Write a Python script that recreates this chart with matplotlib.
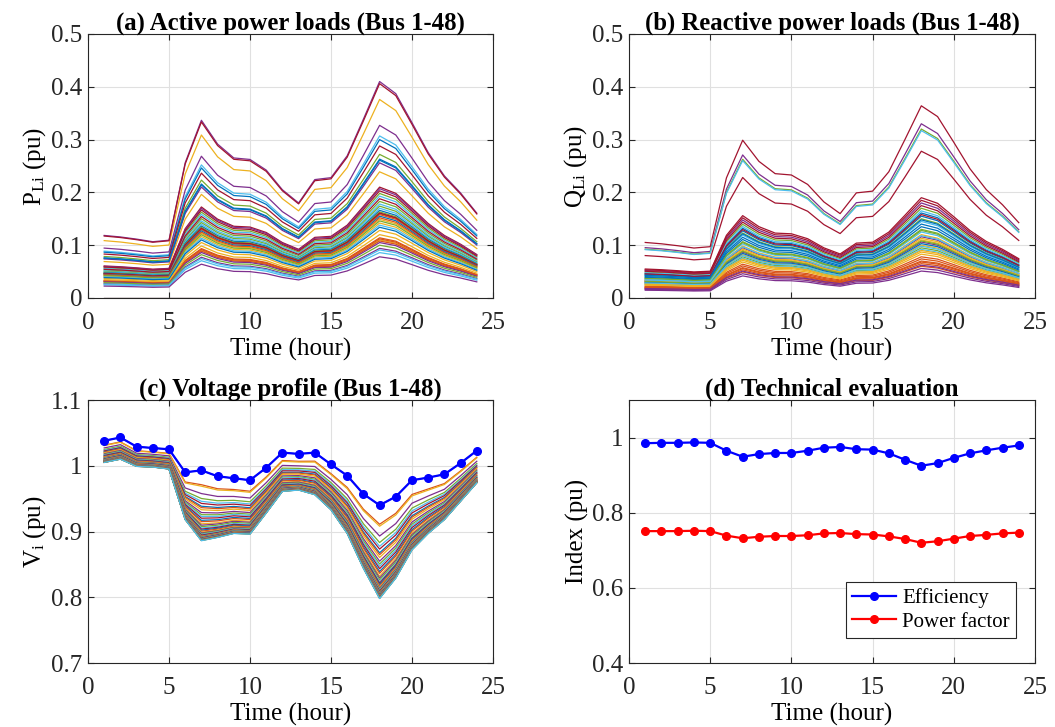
import numpy as np
import matplotlib
matplotlib.use("Agg")
import matplotlib.pyplot as plt

plt.rcParams['font.family'] = ['Liberation Serif', 'DejaVu Serif']
plt.rcParams['mathtext.fontset'] = 'custom'
plt.rcParams['mathtext.rm'] = 'Liberation Serif'
plt.rcParams['mathtext.it'] = 'Liberation Serif:italic'

hours = np.arange(1, 25)

# Normalised daily load profile (peak hour 18 = 1.0)
load_profile = [0.289, 0.282, 0.272, 0.260, 0.267, 0.625, 0.821, 0.711, 0.647, 0.640,
                0.591, 0.500, 0.439, 0.547, 0.556, 0.657, 0.826, 1.000, 0.944, 0.810,
                0.672, 0.564, 0.485, 0.392]

# Peak active load per bus (pu), buses 1-48
p_peak = [0.000, 0.000, 0.376, 0.410, 0.272, 0.307, 0.406, 0.300, 0.160, 0.239,
          0.327, 0.198, 0.193, 0.288, 0.263, 0.114, 0.110, 0.256, 0.183, 0.178,
          0.210, 0.261, 0.158, 0.149, 0.207, 0.174, 0.170, 0.203, 0.166, 0.112,
          0.142, 0.094, 0.163, 0.086, 0.161, 0.155, 0.152, 0.128, 0.078, 0.146,
          0.138, 0.188, 0.134, 0.108, 0.120, 0.105, 0.100, 0.091]

# Peak reactive load per bus (pu), buses 1-48
q_peak = [0.000, 0.000, 0.120, 0.330, 0.320, 0.317, 0.364, 0.161, 0.078, 0.110,
          0.180, 0.150, 0.145, 0.278, 0.140, 0.070, 0.100, 0.116, 0.170, 0.165,
          0.190, 0.155, 0.065, 0.087, 0.106, 0.130, 0.125, 0.175, 0.135, 0.060,
          0.083, 0.056, 0.095, 0.092, 0.158, 0.103, 0.074, 0.113, 0.051, 0.108,
          0.098, 0.185, 0.148, 0.068, 0.090, 0.062, 0.128, 0.118]

# Substation (bus 1) voltage and lowest bus voltage per hour (pu)
v_bus1 = [1.038, 1.043, 1.029, 1.027, 1.025, 0.990, 0.993, 0.984, 0.981, 0.978,
          0.997, 1.020, 1.018, 1.020, 1.002, 0.985, 0.957, 0.940, 0.953, 0.978,
          0.982, 0.987, 1.004, 1.023]
v_min = [1.005, 1.010, 0.999, 0.998, 0.995, 0.918, 0.886, 0.891, 0.897, 0.896,
         0.928, 0.961, 0.963, 0.956, 0.933, 0.897, 0.844, 0.798, 0.829, 0.872,
         0.897, 0.918, 0.946, 0.974]
# Share of the feeder voltage drop seen at each bus
drop_share = [0.0, 0.204, 0.225, 0.33, 0.40, 0.44, 0.47, 0.51, 0.53, 0.56,
              0.60, 0.63, 0.655, 0.68, 0.71, 0.73, 0.76, 0.78, 0.80, 0.82,
              0.835, 0.85, 0.865, 0.88, 0.89, 0.90, 0.91, 0.92, 0.93, 0.935,
              0.94, 0.945, 0.95, 0.955, 0.96, 0.965, 0.97, 0.973, 0.976, 0.979,
              0.982, 0.985, 0.988, 0.991, 0.994, 0.996, 0.998, 1.0]

efficiency = [0.985, 0.986, 0.986, 0.987, 0.986, 0.965, 0.949, 0.956, 0.959, 0.959,
              0.965, 0.973, 0.975, 0.969, 0.968, 0.958, 0.941, 0.925, 0.932, 0.946,
              0.958, 0.966, 0.973, 0.979]
power_factor = [0.751, 0.751, 0.751, 0.752, 0.751, 0.739, 0.732, 0.736, 0.738, 0.738,
                0.740, 0.745, 0.746, 0.743, 0.742, 0.737, 0.730, 0.720, 0.724, 0.731,
                0.738, 0.741, 0.745, 0.747]

matlab_colors = ['#0072BD', '#D95319', '#EDB120', '#7E2F8E', '#77AC30', '#4DBEEE', '#A2142F']

prof = np.array(load_profile)
P = np.outer(p_peak, prof)
Q = np.outer(q_peak, prof)
V1 = np.array(v_bus1)
Vm = np.array(v_min)
V = V1[None, :] - np.array(drop_share)[:, None] * (V1 - Vm)[None, :]

fig = plt.figure(figsize=(10.55, 7.27), dpi=100)
W, H = 1055, 727
def add_ax(l, t, r, b):
    return fig.add_axes([l / W, 1 - b / H, (r - l) / W, (b - t) / H])

axa = add_ax(88, 34, 493, 298)
axb = add_ax(629, 34, 1035, 298)
axc = add_ax(88, 400, 493, 663)
axd = add_ax(629, 400, 1035, 663)

FS = 18
TFS = 17.8

def style(ax, ylim, yticks, yticklabels, ylabel, title):
    ax.set_xlim(0, 25)
    ax.set_xticks([0, 5, 10, 15, 20, 25])
    ax.set_ylim(*ylim)
    ax.set_yticks(yticks)
    ax.set_yticklabels(yticklabels)
    ax.grid(True, color='#e0e0e0', linewidth=0.8)
    ax.set_axisbelow(True)
    ax.tick_params(direction='in', top=True, right=True, labelsize=FS, length=4,
                   width=0.8, colors='#262626')
    ax.tick_params(axis='x', pad=10)
    ax.tick_params(axis='y', pad=4)
    for s in ax.spines.values():
        s.set_color('#262626')
        s.set_linewidth(0.8)
    ax.set_xlabel('Time (hour)', fontsize=FS, labelpad=3)
    ax.set_ylabel(ylabel, fontsize=FS, labelpad=2)
    ax.set_title(title, fontsize=TFS, fontweight='bold', pad=3)

for i in range(len(p_peak)):
    axa.plot(hours, P[i], color=matlab_colors[i % 7], lw=0.9)
style(axa, (0, 0.5), [0, 0.1, 0.2, 0.3, 0.4, 0.5], ['0', '0.1', '0.2', '0.3', '0.4', '0.5'],
      r'P$_{\mathrm{Li}}$ (pu)', '(a) Active power loads (Bus 1-48)')

for i in range(len(q_peak)):
    axb.plot(hours, Q[i], color=matlab_colors[i % 7], lw=0.9)
style(axb, (0, 0.5), [0, 0.1, 0.2, 0.3, 0.4, 0.5], ['0', '0.1', '0.2', '0.3', '0.4', '0.5'],
      r'Q$_{\mathrm{Li}}$ (pu)', '(b) Reactive power loads (Bus 1-48)')

for i in range(len(drop_share)):
    axc.plot(hours, V[i], color=matlab_colors[i % 7], lw=0.9)
axc.plot(hours, v_bus1, color='#0000FF', lw=1.6, marker='o', markersize=5.5)
style(axc, (0.7, 1.1), [0.7, 0.8, 0.9, 1.0, 1.1], ['0.7', '0.8', '0.9', '1', '1.1'],
      r'V$_{\mathrm{i}}$ (pu)', '(c) Voltage profile (Bus 1-48)')

axd.plot(hours, efficiency, color='#0000FF', lw=1.6, marker='o', markersize=5.5, label='Efficiency')
axd.plot(hours, power_factor, color='#FF0000', lw=1.6, marker='o', markersize=5.5, label='Power factor')
style(axd, (0.4, 1.1), [0.4, 0.6, 0.8, 1.0], ['0.4', '0.6', '0.8', '1'],
      'Index (pu)', '(d) Technical evaluation')
leg = axd.legend(loc='lower right', bbox_to_anchor=(0.963, 0.08), fontsize=15, frameon=True,
                 fancybox=False, edgecolor='#262626', framealpha=1, handlelength=2.1,
                 borderpad=0.3, labelspacing=0.2, handletextpad=0.3, borderaxespad=0.2)
leg.get_frame().set_linewidth(0.8)

fig.savefig('out.png', dpi=100)
